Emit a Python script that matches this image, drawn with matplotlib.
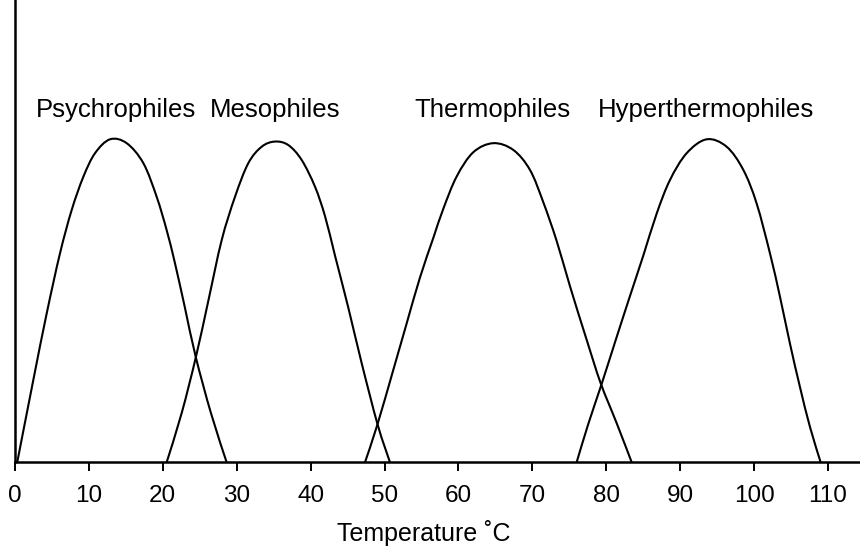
import numpy as np
import matplotlib
matplotlib.use("Agg")
import matplotlib.pyplot as plt
from matplotlib.path import Path
from matplotlib.patches import PathPatch

plt.rcParams['font.family'] = ['Liberation Sans', 'DejaVu Sans']

# Growth-rate curves (temperature degC, relative rate)
psychro_t = [0.3, 2.48, 4.29, 6.09, 7.67, 9.25, 10.83, 12.86, 15.11, 17.37, 19.17, 20.52, 21.65, 23.0, 24.45, 26.52, 28.64]
psychro_r = [0.0, 0.255, 0.461, 0.647, 0.781, 0.884, 0.957, 1.0, 0.988, 0.926, 0.822, 0.719, 0.616, 0.478, 0.327, 0.152, 0.0]

meso_t = [20.52, 22.55, 24.49, 26.16, 27.97, 29.77, 31.57, 33.38, 35.18, 36.99, 38.79, 40.60, 41.95, 43.30, 45.11, 46.91, 49.08, 50.74]
meso_r = [0.0, 0.152, 0.327, 0.50, 0.688, 0.822, 0.926, 0.977, 0.993, 0.982, 0.936, 0.853, 0.762, 0.640, 0.478, 0.307, 0.116, 0.0]

thermo_t = [47.36, 49.03, 51.19, 53.0, 54.80, 56.61, 57.96, 59.77, 62.02, 64.73, 67.43, 69.69, 71.49, 73.30, 75.10, 77.36, 79.25, 81.42, 83.45]
thermo_r = [0.0, 0.116, 0.286, 0.430, 0.572, 0.695, 0.785, 0.885, 0.960, 0.988, 0.967, 0.905, 0.805, 0.685, 0.545, 0.379, 0.245, 0.121, 0.0]

hyper_t = [76.0, 77.58, 79.39, 81.42, 83.22, 85.02, 86.83, 88.63, 90.89, 93.60, 96.30, 98.56, 100.36, 102.17, 103.52, 104.87, 106.22, 107.58, 109.02]
hyper_r = [0.0, 0.119, 0.243, 0.388, 0.515, 0.640, 0.770, 0.874, 0.957, 1.0, 0.977, 0.905, 0.801, 0.646, 0.512, 0.367, 0.233, 0.109, 0.0]

groups = ["Psychrophiles", "Mesophiles", "Thermophiles", "Hyperthermophiles"]
label_x = [13.73, 35.18, 64.6, 93.46]
label_y = 1.069

xticks = [0, 10, 20, 30, 40, 50, 60, 70, 80, 90, 100, 110]
xlabel = "Temperature ˚C"

fig = plt.figure(figsize=(8.6, 5.48), dpi=100)
ax = fig.add_axes([15/860, (548-462.3)/548, 1 - 15/860, 462.3/548])
ax.set_xlim(0, (860-15)/7.39)
ax.set_ylim(0, 462.3/323)


def smooth_path(xs, ys, tension=1/6):
    pts = np.column_stack([xs, ys])
    verts = [pts[0]]
    codes = [Path.MOVETO]
    n = len(pts)
    for i in range(n - 1):
        p0 = pts[i - 1] if i > 0 else pts[i]
        p1 = pts[i]
        p2 = pts[i + 1]
        p3 = pts[i + 2] if i + 2 < n else pts[i + 1]
        c1 = p1 + (p2 - p0) * tension
        c2 = p2 - (p3 - p1) * tension
        verts += [c1, c2, p2]
        codes += [Path.CURVE4] * 3
    return Path(verts, codes)


for xs, ys in [(psychro_t, psychro_r), (meso_t, meso_r), (thermo_t, thermo_r), (hyper_t, hyper_r)]:
    ax.add_patch(PathPatch(smooth_path(xs, ys), facecolor='none', edgecolor='black', lw=1.5))

for name, lx in zip(groups, label_x):
    ax.text(lx, label_y, name, fontsize=18.5, ha='center', va='baseline', color='black')

for s in ['top', 'right']:
    ax.spines[s].set_visible(False)
ax.spines['left'].set_linewidth(1.8)
ax.spines['bottom'].set_linewidth(1.8)
ax.set_yticks([])
ax.set_xticks(xticks)
ax.set_xticklabels([str(t) for t in xticks])
ax.tick_params(axis='x', direction='out', length=6.5, width=1.4, labelsize=17.5, pad=10, color='black')
ax.text(55.3, -(541 - 462.3) / 323, xlabel, fontsize=18, ha='center', va='baseline', clip_on=False)

fig.savefig("out.png", dpi=100, facecolor='white')
